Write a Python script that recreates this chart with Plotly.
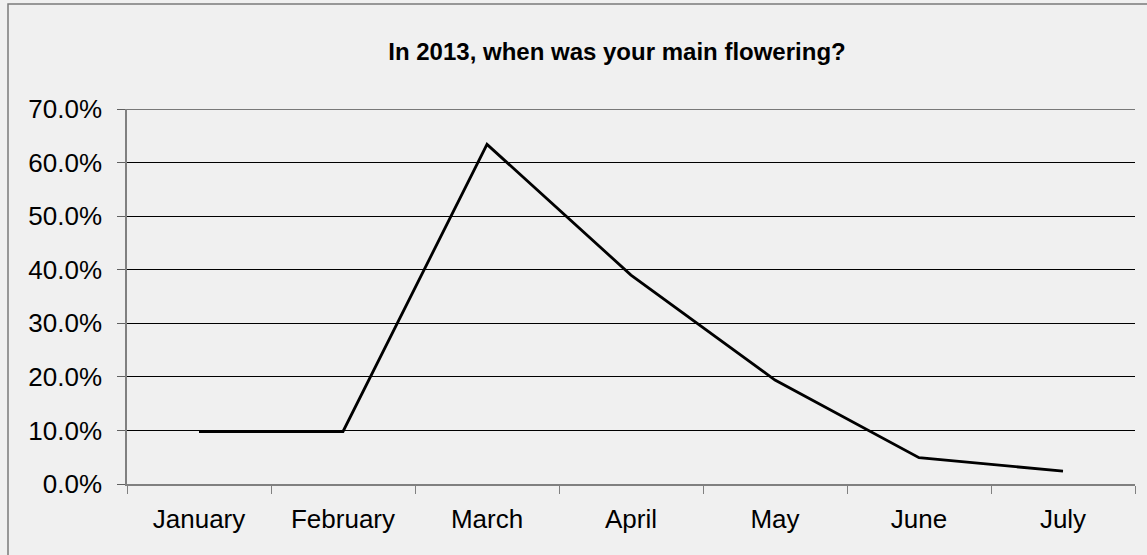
import plotly.graph_objects as go

months = ["January", "February", "March", "April", "May", "June", "July"]
share = [0.098, 0.098, 0.634, 0.390, 0.194, 0.049, 0.024]
y_ticks = [0, 0.1, 0.2, 0.3, 0.4, 0.5, 0.6, 0.7]

W, H = 1147, 555
L, R, T, B = 127, 12, 109, 71
pw, ph = W - L - R, H - T - B

fig = go.Figure()
fig.add_trace(go.Scatter(x=months, y=share, mode="lines",
                         line=dict(color="black", width=2.8), hoverinfo="skip"))

def px_x(p):
    return (p - L) / pw

def px_y(p):
    return (H - B - p) / ph

fig.update_layout(
    width=W, height=H,
    margin=dict(l=L, r=R, t=T, b=B),
    paper_bgcolor="#f0f0f0", plot_bgcolor="#f0f0f0",
    showlegend=False,
    font=dict(family="Liberation Sans, Arial, sans-serif", color="black"),
    title=dict(text="<b>In 2013, when was your main flowering?</b>",
               x=(617) / W, xanchor="center", y=1 - 52 / H, yanchor="middle",
               yref="container", xref="container",
               font=dict(size=24, color="black")),
    xaxis=dict(type="category", tickson="boundaries", ticks="outside", ticklen=8,
               tickcolor="#808080", showline=True, linecolor="#808080", linewidth=1.5,
               showgrid=False, tickfont=dict(size=26), range=[-0.5, 6.5],
               ticklabelstandoff=11),
    yaxis=dict(range=[0, 0.7], tickvals=y_ticks, tickformat=".1%", ticks="outside",
               ticklen=8, tickcolor="#606060", showline=True, linecolor="#808080",
               linewidth=1.5, showgrid=True, gridcolor="black", gridwidth=1,
               zeroline=False, tickfont=dict(size=26), ticklabelstandoff=10),
    shapes=[dict(type="path", xref="paper", yref="paper",
                 path=f"M {px_x(8)} {px_y(560)} L {px_x(8)} {px_y(4)} L {px_x(1160)} {px_y(4)}",
                 line=dict(color="#7a7a7a", width=1.5)),
            dict(type="line", xref="paper", yref="y", x0=0, x1=1, y0=y_ticks[-1], y1=y_ticks[-1],
                 line=dict(color="black", width=1))],
)

fig.write_html("out.html")
